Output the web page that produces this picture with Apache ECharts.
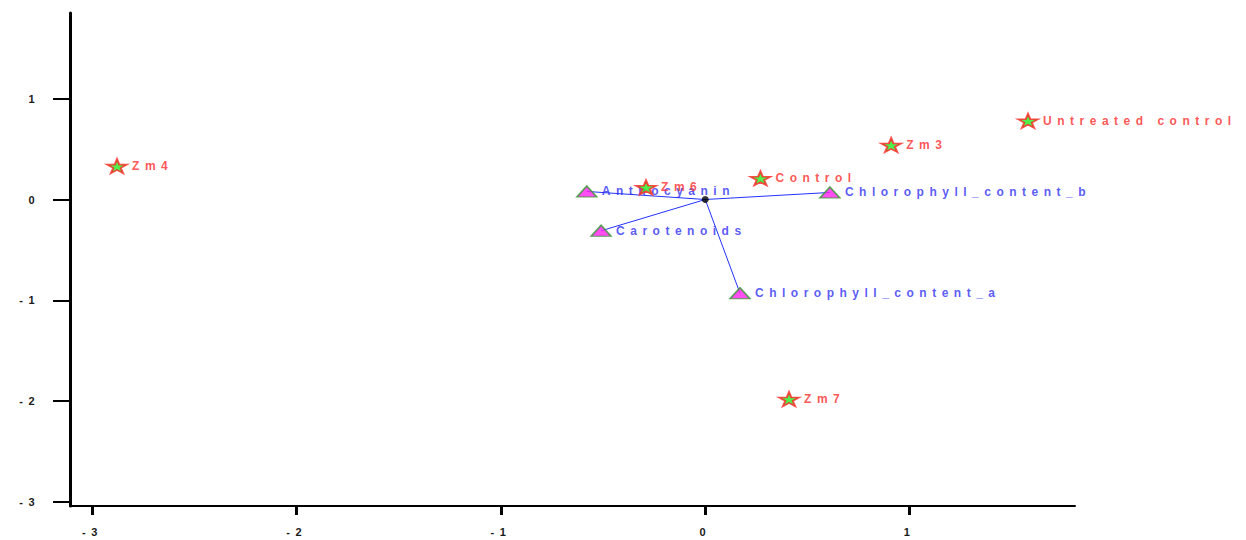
<!DOCTYPE html>
<html>
<head>
<meta charset="utf-8">
<script src="https://cdn.jsdelivr.net/npm/echarts@6.0.0/dist/echarts.min.js"></script>
<style>
html, body { margin: 0; padding: 0; background: #fff; }
#chart { width: 1246px; height: 540px; }
/* the original plot draws its text widely spaced */
#chart text { letter-spacing: 5.5px; }
</style>
</head>
<body>
<div id="chart"></div>
<script>
// sample scores (red stars)
let sampleNames = ['Zm4', 'Zm6', 'Control', 'Zm3', 'Untreated control', 'Zm7'];
let sampleX = [-2.88, -0.29, 0.27, 0.91, 1.58, 0.41];
let sampleY = [0.33, 0.12, 0.21, 0.54, 0.78, -1.98];

// variable loadings (magenta triangles + arrows from origin)
let varNames = ['Anthocyanin', 'Carotenoids', 'Chlorophyll_content_b', 'Chlorophyll_content_a'];
let varX = [-0.58, -0.51, 0.61, 0.17];
let varY = [0.08, -0.31, 0.07, -0.93];

let xTicks = [-3, -2, -1, 0, 1];
let yTicks = [-3, -2, -1, 0, 1];

const FONT = "'Liberation Sans', Arial, sans-serif";
const STAR = 'path://M50,0 L61,35 L98,35 L68,57 L79,91 L50,70 L21,91 L32,57 L2,35 L39,35 Z';

let myChart = echarts.init(document.getElementById('chart'), null, { renderer: 'svg' });

let option = {
    animation: false,
    grid: { left: 70, right: 171, top: 13, bottom: 34, containLabel: false },
    xAxis: {
        type: 'value',
        min: -3.11,
        max: 1.81,
        splitLine: { show: false },
        axisLine: { onZero: false, lineStyle: { color: '#000', width: 2 } },
        axisTick: { customValues: xTicks, length: 9, lineStyle: { color: '#000', width: 3 } },
        axisLabel: { customValues: xTicks, margin: 20, color: '#1a1a1a', fontSize: 11, fontWeight: 'bold', fontFamily: FONT }
    },
    yAxis: {
        type: 'value',
        min: -3.04,
        max: 1.85,
        splitLine: { show: false },
        axisLine: { onZero: false, lineStyle: { color: '#000', width: 3 } },
        axisTick: { customValues: yTicks, length: 17, lineStyle: { color: '#000', width: 2 } },
        axisLabel: { customValues: yTicks, margin: 30, color: '#1a1a1a', fontSize: 11, fontWeight: 'bold', fontFamily: FONT }
    },
    series: [
        {
            type: 'lines',
            coordinateSystem: 'cartesian2d',
            silent: true,
            z: 1,
            lineStyle: { color: '#2233ff', width: 1, opacity: 1 },
            data: varNames.map((n, i) => ({ coords: [[0, 0], [varX[i], varY[i]]] }))
        },
        {
            // origin
            type: 'scatter',
            z: 2,
            symbol: 'circle',
            symbolSize: 7,
            itemStyle: { color: '#000' },
            data: [[0, 0]]
        },
        {
            type: 'scatter',
            z: 3,
            symbol: 'triangle',
            symbolSize: [20, 11],
            itemStyle: { color: '#ff22ee', borderColor: '#339933', borderWidth: 1.5 },
            label: { show: true, position: 'right', distance: 4, formatter: '{b}', color: '#3030f5', fontSize: 12, fontWeight: 'bold', fontFamily: FONT },
            data: varNames.map((n, i) => ({ name: n, value: [varX[i], varY[i]] }))
        },
        {
            type: 'scatter',
            z: 4,
            symbol: STAR,
            symbolSize: [20, 14],
            itemStyle: { color: '#22ee22', borderColor: '#ff2222', borderWidth: 1.8 },
            label: { show: true, position: 'right', distance: 4, formatter: '{b}', color: '#ff2a2a', fontSize: 12, fontWeight: 'bold', fontFamily: FONT },
            data: sampleNames.map((n, i) => ({ name: n, value: [sampleX[i], sampleY[i]] }))
        }
    ]
};

myChart.setOption(option);
</script>
</body>
</html>
